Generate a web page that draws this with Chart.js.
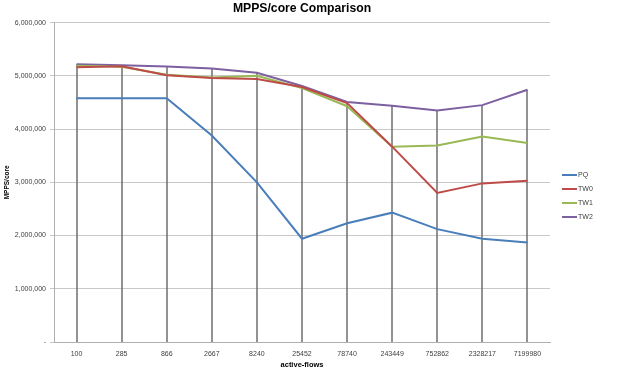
<!DOCTYPE html>
<html>
<head>
<meta charset="utf-8">
<style>
html,body{margin:0;padding:0;background:#fff;}
#wrap{width:624px;height:379px;position:relative;}
</style>
<script src="https://cdn.jsdelivr.net/npm/chart.js@4/dist/chart.umd.min.js"></script>
</head>
<body>
<div id="wrap"><canvas id="c" width="624" height="379"></canvas></div>
<script>
const categories = ["100","285","866","2667","8240","25452","78740","243449","752862","2328217","7199980"];
const PQ  = [4580000,4580000,4580000,3880000,3000000,1940000,2230000,2430000,2120000,1940000,1870000];
const TW0 = [5160000,5180000,5010000,4960000,4940000,4790000,4490000,3670000,2800000,2980000,3030000];
const TW1 = [5190000,5170000,5020000,4970000,5000000,4770000,4430000,3670000,3690000,3860000,3740000];
const TW2 = [5220000,5200000,5175000,5140000,5060000,4810000,4510000,4440000,4350000,4450000,4740000];
const seriesNames = ["PQ","TW0","TW1","TW2"];
const seriesColors = ["#4A7EBB","#BE4B48","#98B954","#7D60A0"];
const yTicks = [0,1000000,2000000,3000000,4000000,5000000,6000000];

const seriesData = [PQ,TW0,TW1,TW2];

const dropLines = {
  id:'dropLines',
  beforeDatasetsDraw(chart){
    const {ctx, scales:{x,y}} = chart;
    ctx.save();
    ctx.strokeStyle = '#6e6e6e';
    ctx.lineWidth = 1.5;
    categories.forEach((c,i)=>{
      const maxV = Math.max(...seriesData.map(s=>s[i]));
      const px = Math.round(x.getPixelForValue(i));
      ctx.beginPath();
      ctx.moveTo(px, y.getPixelForValue(maxV));
      ctx.lineTo(px, y.getPixelForValue(0));
      ctx.stroke();
    });
    ctx.restore();
  }
};

const customLegend = {
  id:'customLegend',
  afterDraw(chart){
    const {ctx} = chart;
    ctx.save();
    ctx.font = '7px "Liberation Sans", Arial, sans-serif';
    ctx.textBaseline = 'middle';
    ctx.fillStyle = '#404040';
    chart.data.datasets.forEach((ds,i)=>{
      const yy = 175 + i*14;
      ctx.strokeStyle = ds.borderColor;
      ctx.lineWidth = 2;
      ctx.beginPath();
      ctx.moveTo(562,yy);
      ctx.lineTo(577,yy);
      ctx.stroke();
      ctx.fillText(ds.label, 578, yy);
    });
    ctx.restore();
  }
};

new Chart(document.getElementById('c'), {
  type:'line',
  data:{
    labels: categories,
    datasets: seriesNames.map((n,i)=>({
      label:n,
      data:seriesData[i],
      borderColor:seriesColors[i],
      backgroundColor:seriesColors[i],
      borderWidth:2,
      pointRadius:0,
      tension:0,
      fill:false
    }))
  },
  options:{
    responsive:false,
    animation:false,
    devicePixelRatio:1,
    layout:{padding:{left:0,right:74,top:1,bottom:0}},
    plugins:{
      legend:{display:false},
      tooltip:{enabled:false},
      title:{
        display:true,
        text:'MPPS/core Comparison',
        fullSize:false,
        color:'#000',
        font:{family:'"Liberation Sans", Arial, sans-serif',size:12.2,weight:'bold'},
        padding:{top:0,bottom:7}
      }
    },
    scales:{
      x:{
        offset:true,
        grid:{display:false},
        border:{display:true,color:'#b0b0b0',width:1},
        ticks:{color:'#404040',padding:0,font:{family:'"Liberation Sans", Arial, sans-serif',size:7},maxRotation:0,autoSkip:false},
        title:{display:true,text:'active-flows',color:'#000',font:{family:'"Liberation Sans", Arial, sans-serif',size:7.5,weight:'bold'},padding:{top:2,bottom:10}},
        afterFit(s){s.height=37;}
      },
      y:{
        min:0,max:6000000,
        afterBuildTicks(s){s.ticks = yTicks.map(v=>({value:v}));},
        grid:{color:'#c8c8c8',lineWidth:1,tickLength:4,drawTicks:true},
        border:{display:true,color:'#b0b0b0',width:1},
        ticks:{color:'#404040',padding:4,font:{family:'"Liberation Sans", Arial, sans-serif',size:7},
          callback:(v)=> v===0 ? '-' : v.toLocaleString('en-US')},
        title:{display:true,text:'MPPS/core',color:'#000',font:{family:'"Liberation Sans", Arial, sans-serif',size:6.5,weight:'bold'},padding:{top:3,bottom:0}},
        afterFit(s){s.width=54;}
      }
    }
  },
  plugins:[dropLines,customLegend]
});
</script>
</body>
</html>
